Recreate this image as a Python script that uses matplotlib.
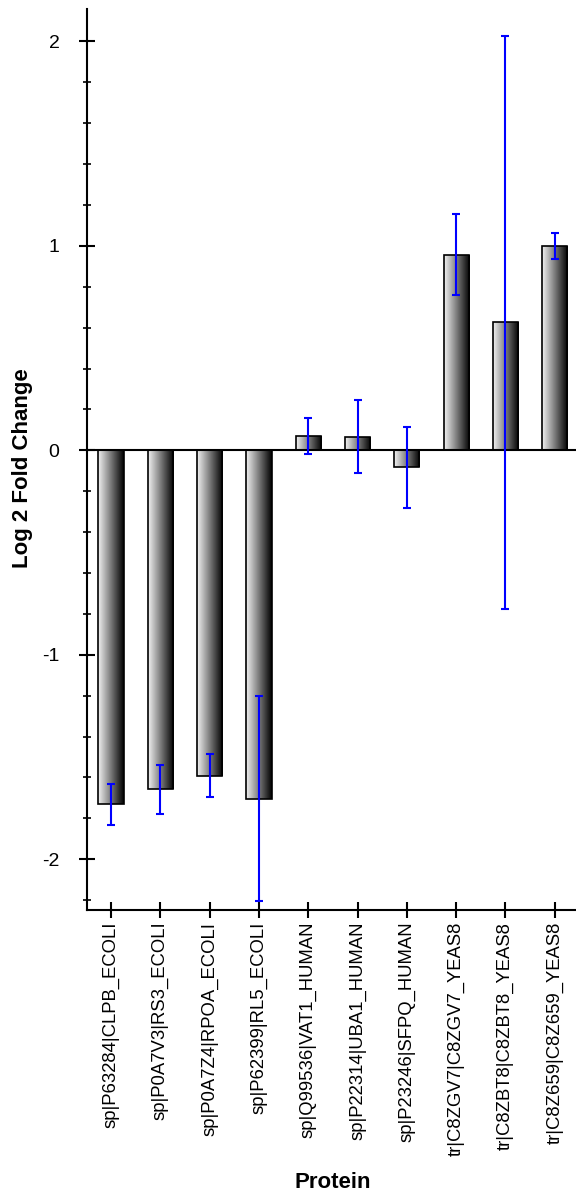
import matplotlib
matplotlib.use("Agg")
import matplotlib.pyplot as plt
import numpy as np
from matplotlib.colors import LinearSegmentedColormap
from matplotlib.ticker import MultipleLocator

proteins = ['sp|P63284|CLPB_ECOLI', 'sp|P0A7V3|RS3_ECOLI', 'sp|P0A7Z4|RPOA_ECOLI',
            'sp|P62399|RL5_ECOLI', 'sp|Q99536|VAT1_HUMAN', 'sp|P22314|UBA1_HUMAN',
            'sp|P23246|SFPQ_HUMAN', 'tr|C8ZGV7|C8ZGV7_YEAS8', 'tr|C8ZBT8|C8ZBT8_YEAS8',
            'tr|C8Z659|C8Z659_YEAS8']
log2fc = [-1.732, -1.658, -1.591, -1.703, 0.071, 0.067, -0.084, 0.957, 0.625, 0.998]
err = [0.10, 0.12, 0.106, 0.50, 0.087, 0.18, 0.20, 0.197, 1.40, 0.063]

plt.rcParams['font.family'] = ['Liberation Sans', 'DejaVu Sans']

fig = plt.figure(figsize=(5.76, 11.93), dpi=100)
ax = fig.add_axes([87/576, 283/1193, 1 - 87/576, (1193 - 9 - 283)/1193])

x = np.arange(len(proteins))
bars = ax.bar(x, log2fc, width=0.51, facecolor='none', edgecolor='black', linewidth=1.2, zorder=3)

# gradient inside each bar (light left -> black right)
cmap = LinearSegmentedColormap.from_list('g', ['#f2f2f2', '#7a7a7a', '#000000'])
grad = np.linspace(0, 1, 256).reshape(1, -1)
for b in bars:
    x0, y0 = b.get_x(), b.get_y()
    w, h = b.get_width(), b.get_height()
    im = ax.imshow(grad, cmap=cmap, extent=(x0, x0 + w, y0, y0 + h), aspect='auto',
                   origin='lower', zorder=2, interpolation='bilinear')
    im.set_clip_path(b)

ax.errorbar(x, log2fc, yerr=err, fmt='none', ecolor='#0000ff', elinewidth=1.5,
            capsize=3.2, capthick=1.5, zorder=4)

ax.axhline(0, color='black', linewidth=1.5, zorder=3)

ax.set_xlim(-0.487, 9.43)
ax.set_ylim(-2.248, 2.158)

for s in ['top', 'right']:
    ax.spines[s].set_visible(False)
ax.spines['left'].set_linewidth(1.5)
ax.spines['bottom'].set_linewidth(1.5)

ax.yaxis.set_major_locator(MultipleLocator(1))
ax.yaxis.set_minor_locator(MultipleLocator(0.2))
ax.set_yticks([-2, -1, 0, 1, 2])
ax.set_yticklabels(['-2', '-1', '0', '1', '2'])
ax.tick_params(axis='y', which='major', direction='inout', length=11.5, width=1.5,
               labelsize=14, pad=14)
ax.tick_params(axis='y', which='minor', direction='inout', length=6, width=1.2)

ax.set_xticks(x)
ax.set_xticklabels(proteins, rotation=90, fontsize=13.3)
ax.tick_params(axis='x', direction='inout', length=11, width=1.5, pad=3)

fig.text(23/576, 1 - 468/1193, 'Log 2 Fold Change', rotation=90, fontsize=16,
         fontweight='bold', ha='center', va='center')
fig.text(333/576, 1 - 1183/1193, 'Protein', fontsize=16, fontweight='bold',
         ha='center', va='center')

fig.savefig('out.png', dpi=100)
